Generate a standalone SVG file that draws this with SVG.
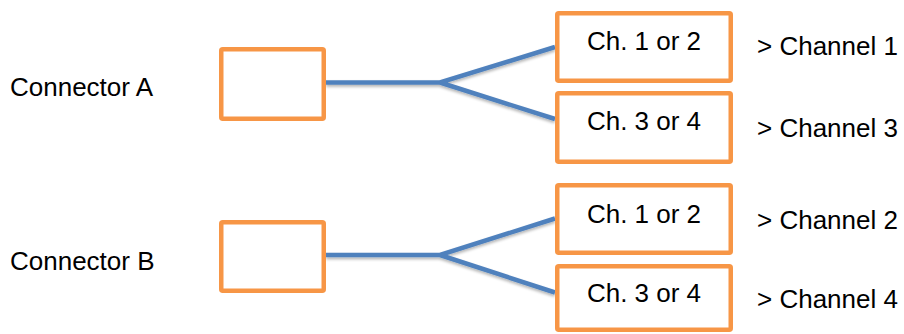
<svg xmlns="http://www.w3.org/2000/svg" width="904" height="334" viewBox="0 0 904 334">
<defs>
<style>
.box{fill:#fff;stroke:#F79646;stroke-width:4.5;}
.t{font-family:"Liberation Sans",Arial,sans-serif;font-size:26px;fill:#000;}
.c{text-anchor:middle;}
.ln{fill:none;stroke:#4F81BD;stroke-width:4.5;stroke-linejoin:miter;}
</style>
<filter id="sh" x="-10%" y="-50%" width="120%" height="200%">
<feGaussianBlur in="SourceAlpha" stdDeviation="1.5"/>
<feOffset dx="0" dy="2" result="b"/>
<feComponentTransfer><feFuncA type="linear" slope="0.3"/></feComponentTransfer>
<feMerge><feMergeNode/><feMergeNode in="SourceGraphic"/></feMerge>
</filter>
</defs>
<rect width="904" height="334" fill="#fff"/>
<g id="connectors" filter="url(#sh)">
<path class="ln" d="M326,82.5 H440 L555,47 M440,82.5 L555,119"/>
<path class="ln" d="M326,255 H440 L555,218.5 M440,255 L555,292.5"/>
</g>
<g id="connA">
<text class="t" x="10" y="96">Connector A</text>
<rect class="box" x="221.25" y="49.25" width="102.5" height="69.5" rx="1.5"/>
</g>
<g id="connB">
<text class="t" x="10" y="270">Connector B</text>
<rect class="box" x="221.25" y="222.25" width="102.5" height="68.5" rx="1.5"/>
</g>
<g id="a12">
<rect class="box" x="557.25" y="13.25" width="173.5" height="67.5" rx="1.5"/>
<text class="t c" x="644" y="50">Ch. 1 or 2</text>
</g>
<g id="a34">
<rect class="box" x="557.25" y="93.25" width="173.5" height="68.5" rx="1.5"/>
<text class="t c" x="644" y="130">Ch. 3 or 4</text>
</g>
<g id="b12">
<rect class="box" x="557.25" y="185.25" width="173.5" height="67.5" rx="1.5"/>
<text class="t c" x="644" y="223">Ch. 1 or 2</text>
</g>
<g id="b34">
<rect class="box" x="557.25" y="266.25" width="173.5" height="63.5" rx="1.5"/>
<text class="t c" x="644" y="302">Ch. 3 or 4</text>
</g>
<g id="out1"><text class="t" x="757" y="55">&gt; Channel 1</text></g>
<g id="out3"><text class="t" x="757" y="137">&gt; Channel 3</text></g>
<g id="out2"><text class="t" x="757" y="229">&gt; Channel 2</text></g>
<g id="out4"><text class="t" x="757" y="308">&gt; Channel 4</text></g>
</svg>
